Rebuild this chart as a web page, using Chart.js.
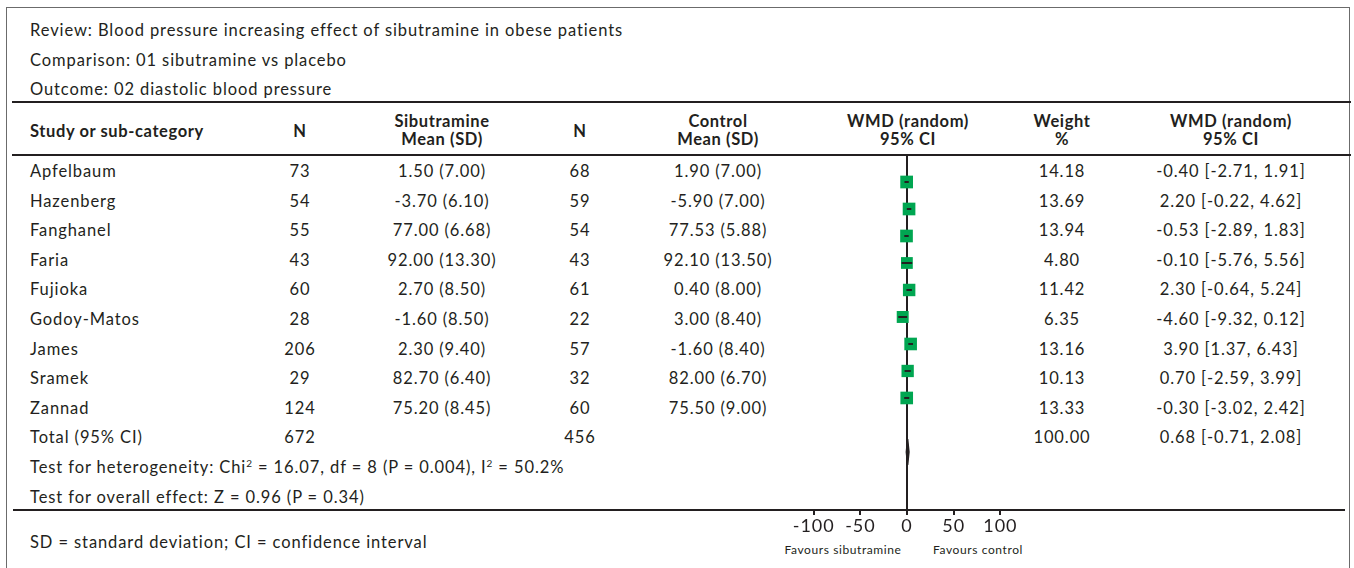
<!DOCTYPE html>
<html>
<head>
<meta charset="utf-8">
<script src="https://cdn.jsdelivr.net/npm/chart.js@4/dist/chart.umd.min.js"></script>
<style>
  html, body { margin: 0; padding: 0; background: #fff; }
  body { width: 1354px; height: 568px; position: relative; overflow: hidden;
         font-family: Lato, "Noto Sans", sans-serif; font-size: 16.5px; letter-spacing: 0.9px; color: #231f20; }
  #frame { position: absolute; left: 6px; top: 7px; width: 1344px; height: 620px;
           border: 1.5px solid #6b6b6b; box-sizing: border-box; }
  .rule { position: absolute; height: 2px; background: #231f20; }
  .t { position: absolute; line-height: 20px; white-space: nowrap; }
  .t sup { font-size: 10px; line-height: 0; vertical-align: 6px; }
  .c { transform: translateX(-50%); text-align: center; }
  .b { font-weight: 700; letter-spacing: 0.6px; }
  .small { font-size: 12px; line-height: 14px; letter-spacing: 0.6px; }
  #plot { position: absolute; left: 767px; top: 155px; }
</style>
</head>
<body>
<div id="frame"></div>
<div class="rule" style="left:12px; top:101px; width:1339px;"></div>
<div class="rule" style="left:12px; top:154px; width:1339px;"></div>
<div class="rule" style="left:13px; top:509px; width:1332px;"></div>
<div id="text"></div>
<canvas id="plot" width="280" height="385"></canvas>
<script>
  const studies = ['Apfelbaum', 'Hazenberg', 'Fanghanel', 'Faria', 'Fujioka', 'Godoy-Matos', 'James', 'Sramek', 'Zannad'];
  const sibN = [73, 54, 55, 43, 60, 28, 206, 29, 124];
  const sibMean = [1.50, -3.70, 77.00, 92.00, 2.70, -1.60, 2.30, 82.70, 75.20];
  const sibSD = [7.00, 6.10, 6.68, 13.30, 8.50, 8.50, 9.40, 6.40, 8.45];
  const ctrlN = [68, 59, 54, 43, 61, 22, 57, 32, 60];
  const ctrlMean = [1.90, -5.90, 77.53, 92.10, 0.40, 3.00, -1.60, 82.00, 75.50];
  const ctrlSD = [7.00, 7.00, 5.88, 13.50, 8.00, 8.40, 8.40, 6.70, 9.00];
  const weights = [14.18, 13.69, 13.94, 4.80, 11.42, 6.35, 13.16, 10.13, 13.33];
  const wmd = [-0.40, 2.20, -0.53, -0.10, 2.30, -4.60, 3.90, 0.70, -0.30];
  const ciLow = [-2.71, -0.22, -2.89, -5.76, -0.64, -9.32, 1.37, -2.59, -3.02];
  const ciHigh = [1.91, 4.62, 1.83, 5.56, 5.24, 0.12, 6.43, 3.99, 2.42];

  const totalN = [672, 456];
  const totalWeight = 100.00;
  const totalWmd = 0.68;
  const totalCi = [-0.71, 2.08];
  const xTicks = [-100, -50, 0, 50, 100];

  const textBox = document.getElementById('text');
  function put(html, x, y, cls) {
    const d = document.createElement('div');
    d.className = 't ' + (cls || '');
    d.style.left = x + 'px';
    d.style.top = (y - 10) + 'px';
    d.innerHTML = html;
    textBox.appendChild(d);
  }
  const f2 = (v) => v.toFixed(2);
  const ciText = (m, lo, hi) => `${f2(m)} [${f2(lo)}, ${f2(hi)}]`;

  const col = { study: 30, sibN: 300, sibMean: 442, ctrlN: 580, ctrlMean: 718, plot: 908, weight: 1062, ci: 1231 };
  const rowY = (i) => 171 + 29.6 * i;

  put('Review: Blood pressure increasing effect of sibutramine in obese patients', col.study, 30);
  put('Comparison: 01 sibutramine vs placebo', col.study, 60);
  put('Outcome: 02 diastolic blood pressure', col.study, 89);

  put('Study or sub-category', col.study, 131, 'b');
  put('N', col.sibN, 131, 'b c');
  put('Sibutramine', col.sibMean, 121, 'b c');
  put('Mean (SD)', col.sibMean, 139, 'b c');
  put('N', col.ctrlN, 131, 'b c');
  put('Control', col.ctrlMean, 121, 'b c');
  put('Mean (SD)', col.ctrlMean, 139, 'b c');
  put('WMD (random)', col.plot, 121, 'b c');
  put('95% CI', col.plot, 139, 'b c');
  put('Weight', col.weight, 121, 'b c');
  put('%', col.weight, 139, 'b c');
  put('WMD (random)', col.ci, 121, 'b c');
  put('95% CI', col.ci, 139, 'b c');

  studies.forEach((s, i) => {
    const y = rowY(i);
    put(s, col.study, y);
    put(sibN[i], col.sibN, y, 'c');
    put(`${f2(sibMean[i])} (${f2(sibSD[i])})`, col.sibMean, y, 'c');
    put(ctrlN[i], col.ctrlN, y, 'c');
    put(`${f2(ctrlMean[i])} (${f2(ctrlSD[i])})`, col.ctrlMean, y, 'c');
    put(f2(weights[i]), col.weight, y, 'c');
    put(ciText(wmd[i], ciLow[i], ciHigh[i]), col.ci, y, 'c');
  });

  const yTot = rowY(9);
  put('Total (95% CI)', col.study, yTot);
  put(totalN[0], col.sibN, yTot, 'c');
  put(totalN[1], col.ctrlN, yTot, 'c');
  put(f2(totalWeight), col.weight, yTot, 'c');
  put(ciText(totalWmd, totalCi[0], totalCi[1]), col.ci, yTot, 'c');
  put('Test for heterogeneity: Chi<sup>2</sup> = 16.07, df = 8 (P = 0.004), I<sup>2</sup> = 50.2%', col.study, rowY(10));
  put('Test for overall effect: Z = 0.96 (P = 0.34)', col.study, rowY(11));
  put('SD = standard deviation; CI = confidence interval', col.study, 542);
  put('Favours sibutramine', 843, 553, 'c small');
  put('Favours control', 978, 553, 'c small');

  // forest plot: squares, CI whiskers and the pooled diamond
  const ink = '#231f20';
  const ciSets = studies.map((s, i) => ({
    type: 'line',
    data: [{ x: ciLow[i], y: i }, { x: ciHigh[i], y: i }],
    borderColor: ink,
    borderWidth: 2,
    pointRadius: 0,
    order: 0,
  }));
  const diamondH = 0.48;
  const diamond = {
    type: 'line',
    data: [
      { x: totalCi[0], y: 10 },
      { x: totalWmd, y: 10 - diamondH },
      { x: totalCi[1], y: 10 },
      { x: totalWmd, y: 10 + diamondH },
      { x: totalCi[0], y: 10 },
    ],
    borderColor: ink,
    borderWidth: 1.5,
    backgroundColor: ink,
    fill: 'shape',
    pointRadius: 0,
    tension: 0,
    order: 0,
  };
  const squares = {
    type: 'scatter',
    data: wmd.map((v, i) => ({ x: v, y: i })),
    pointStyle: 'rect',
    pointRadius: weights.map((w) => 8 + w * 0.07),
    backgroundColor: '#00a651',
    borderWidth: 0,
    order: 1,
  };

  new Chart(document.getElementById('plot'), {
    type: 'scatter',
    data: { datasets: [squares, ...ciSets, diamond] },
    options: {
      responsive: false,
      animation: false,
      devicePixelRatio: 1,
      layout: { padding: 0, autoPadding: false },
      plugins: { legend: { display: false }, tooltip: { enabled: false } },
      scales: {
        x: {
          type: 'linear',
          min: -150,
          max: 150,
          afterBuildTicks: (scale) => { scale.ticks = xTicks.map((v) => ({ value: v })); },
          afterFit: (scale) => { scale.height = 30; },
          border: { display: false },
          grid: {
            color: (ctx) => (ctx.tick && ctx.tick.value === 0 ? ink : 'rgba(0,0,0,0)'),
            lineWidth: 2,
            tickColor: ink,
            tickLength: 5,
          },
          ticks: {
            color: ink,
            padding: 0,
            font: { family: 'Lato', size: 18 },
            callback: (v) => v,
          },
        },
        y: {
          type: 'linear',
          min: -1,
          max: 12.15,
          reverse: true,
          display: false,
        },
      },
    },
  });
</script>
</body>
</html>
